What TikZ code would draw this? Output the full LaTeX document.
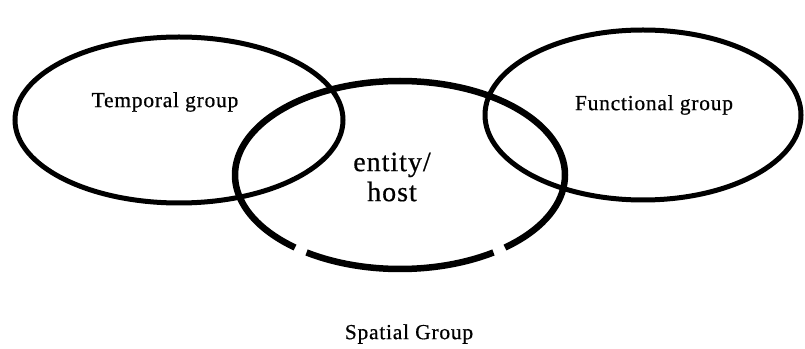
\documentclass[tikz,border=0pt]{standalone}
\usepackage{fontspec}
\setmainfont{Liberation Serif}[LetterSpace=3.5, RawFeature={embolden=0.6}]
\usetikzlibrary{calc}
\begin{document}
\begin{tikzpicture}[x=1pt,y=1pt,
  ring/.style={draw=black,line width=5pt},
  hostring/.style={draw=black,line width=6.5pt},
  label/.style={font=\fontsize{21.5}{24}\selectfont,inner sep=0pt},
  biglabel/.style={font=\fontsize{28}{30}\selectfont,inner sep=0pt,align=center}]
\useasboundingbox (0,0) rectangle (805,348);

% three overlapping groups
\coordinate (tc) at (179,228);
\coordinate (fc) at (643,233);
\coordinate (hc) at (400,173);
\draw[ring] (tc) ellipse [x radius=164pt, y radius=83pt];
\draw[ring] (fc) ellipse [x radius=158pt, y radius=85pt];

% the entity/host ring, broken twice along its lower edge
\draw[hostring] ($(hc)+(235.5:165pt and 94pt)$) arc[start angle=235.5, end angle=304.5, x radius=165pt, y radius=94pt];
\draw[hostring] ($(hc)+(309.5:165pt and 94pt)$) arc[start angle=309.5, end angle=590.5, x radius=165pt, y radius=94pt];

\node[label] (temporal) at (165,246) {Temporal group};
\node[label] (functional) at (654,243) {Functional group};
\node[biglabel] (host) at (392,171) {entity/\\host};
\node[label] (spatial) at (409,14) {Spatial Group};
\end{tikzpicture}
\end{document}
